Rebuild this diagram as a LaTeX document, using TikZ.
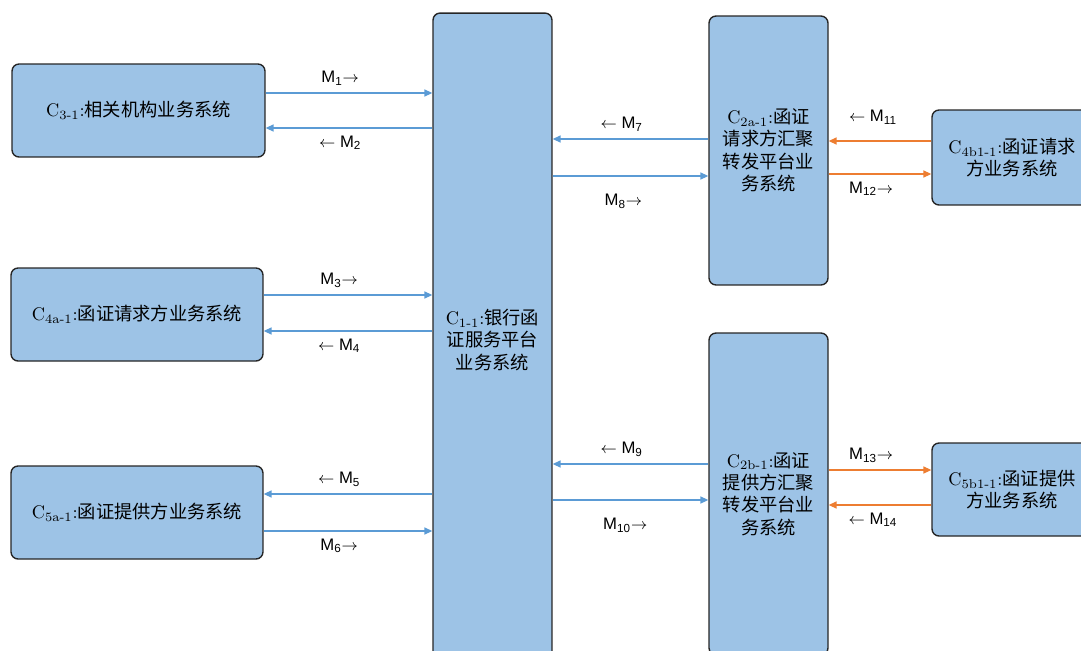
\documentclass[tikz,border=0pt]{standalone}
\usepackage{fontspec}
\usepackage{tikz}
\usetikzlibrary{arrows.meta, positioning}
\newfontfamily\cjk{Noto Sans CJK SC}
\newfontfamily\msgfont{Liberation Sans}
\definecolor{boxblue}{RGB}{157, 195, 230}
\definecolor{boxedge}{RGB}{38, 38, 38}
\definecolor{linkblue}{RGB}{91, 155, 213}
\definecolor{linkorange}{RGB}{237, 125, 49}
\newcommand{\compname}[1]{{\rmfamily C\textsubscript{#1}:}}
\newcommand{\msgto}[1]{M\textsubscript{#1}$\rightarrow$}
\newcommand{\msgfrom}[1]{$\leftarrow$ M\textsubscript{#1}}

\begin{document}
\begin{tikzpicture}[
    x=0.02cm, y=-0.02cm,
    sysbox/.style={rectangle, rounded corners=4pt, draw=boxedge, fill=boxblue, line width=0.8pt,
                   inner sep=0pt, align=center, font=\cjk\fontsize{10.4}{12.8}\selectfont},
    msg/.style={-{Triangle[length=4.5pt, width=4pt]}, line width=0.7pt, draw=linkblue},
    msgorange/.style={msg, draw=linkorange},
    msglabel/.style={font=\msgfont\fontsize{9.5}{11}\selectfont, text=black, inner sep=4pt},
]
    \useasboundingbox (0,0) rectangle (1081,650);
    \clip (0,0) rectangle (1081,650);

    % Left systems
    \node[sysbox, minimum width=5.06cm, minimum height=1.86cm] (c31) at (138.5,110.5)
        {\compname{3-1}相关机构业务系统};
    \node[sysbox, minimum width=5.04cm, minimum height=1.86cm] (c4a1) at (137,314.5)
        {\compname{4a-1}函证请求方业务系统};
    \node[sysbox, minimum width=5.04cm, minimum height=1.86cm] (c5a1) at (137,512.5)
        {\compname{5a-1}函证提供方业务系统};

    % Bank platform (centre)
    \node[sysbox, minimum width=2.38cm, minimum height=13.08cm] (c11) at (492.5,340)
        {\compname{1-1}银行函\\证服务平台\\业务系统};

    % Forwarding platforms
    \node[sysbox, minimum width=2.38cm, minimum height=5.38cm] (c2a1) at (768.5,150.5)
        {\compname{2a-1}函证\\请求方汇聚\\转发平台业\\务系统};
    \node[sysbox, minimum width=2.38cm, minimum height=6.44cm] (c2b1) at (768.5,494)
        {\compname{2b-1}函证\\提供方汇聚\\转发平台业\\务系统};

    % Right systems
    \node[sysbox, minimum width=3.2cm, minimum height=1.9cm] (c4b11) at (1012,157.5)
        {\compname{4b1-1}函证请求\\方业务系统};
    \node[sysbox, minimum width=3.2cm, minimum height=1.86cm] (c5b11) at (1012,489.5)
        {\compname{5b1-1}函证提供\\方业务系统};

    % Messages, left side
    \draw[msg] (c31.east |- 0,93) -- node[msglabel, above, xshift=-5pt] {\msgto{1}} (c11.west |- 0,93);
    \draw[msg] (c11.west |- 0,128) -- node[msglabel, below, xshift=-5pt] {\msgfrom{2}} (c31.east |- 0,128);
    \draw[msg] (c4a1.east |- 0,295) -- node[msglabel, above, xshift=-5pt] {\msgto{3}} (c11.west |- 0,295);
    \draw[msg] (c11.west |- 0,331) -- node[msglabel, below, xshift=-5pt] {\msgfrom{4}} (c4a1.east |- 0,331);
    \draw[msg] (c11.west |- 0,494) -- node[msglabel, above, xshift=-5pt] {\msgfrom{5}} (c5a1.east |- 0,494);
    \draw[msg] (c5a1.east |- 0,531) -- node[msglabel, below, xshift=-5pt] {\msgto{6}} (c11.west |- 0,531);

    % Messages, centre to forwarding platforms
    \draw[msg] (c2a1.west |- 0,139) -- node[msglabel, above, xshift=-5pt] {\msgfrom{7}} (c11.east |- 0,139);
    \draw[msg] (c11.east |- 0,176) -- node[msglabel, below=6pt, xshift=-4pt] {\msgto{8}} (c2a1.west |- 0,176);
    \draw[msg] (c2b1.west |- 0,464) -- node[msglabel, above, xshift=-5pt] {\msgfrom{9}} (c11.east |- 0,464);
    \draw[msg] (c11.east |- 0,500) -- node[msglabel, below=6pt, xshift=-3pt] {\msgto{10}} (c2b1.west |- 0,500);

    % Messages, right side
    \draw[msgorange] (c4b11.west |- 0,141) -- node[msglabel, above=5pt, xshift=-4pt] {\msgfrom{11}} (c2a1.east |- 0,141);
    \draw[msgorange] (c2a1.east |- 0,174) -- node[msglabel, below, xshift=-5pt] {\msgto{12}} (c4b11.west |- 0,174);
    \draw[msgorange] (c2b1.east |- 0,470) -- node[msglabel, above, xshift=-5pt] {\msgto{13}} (c5b11.west |- 0,470);
    \draw[msgorange] (c5b11.west |- 0,505) -- node[msglabel, below, xshift=-4pt] {\msgfrom{14}} (c2b1.east |- 0,505);
\end{tikzpicture}
\end{document}
